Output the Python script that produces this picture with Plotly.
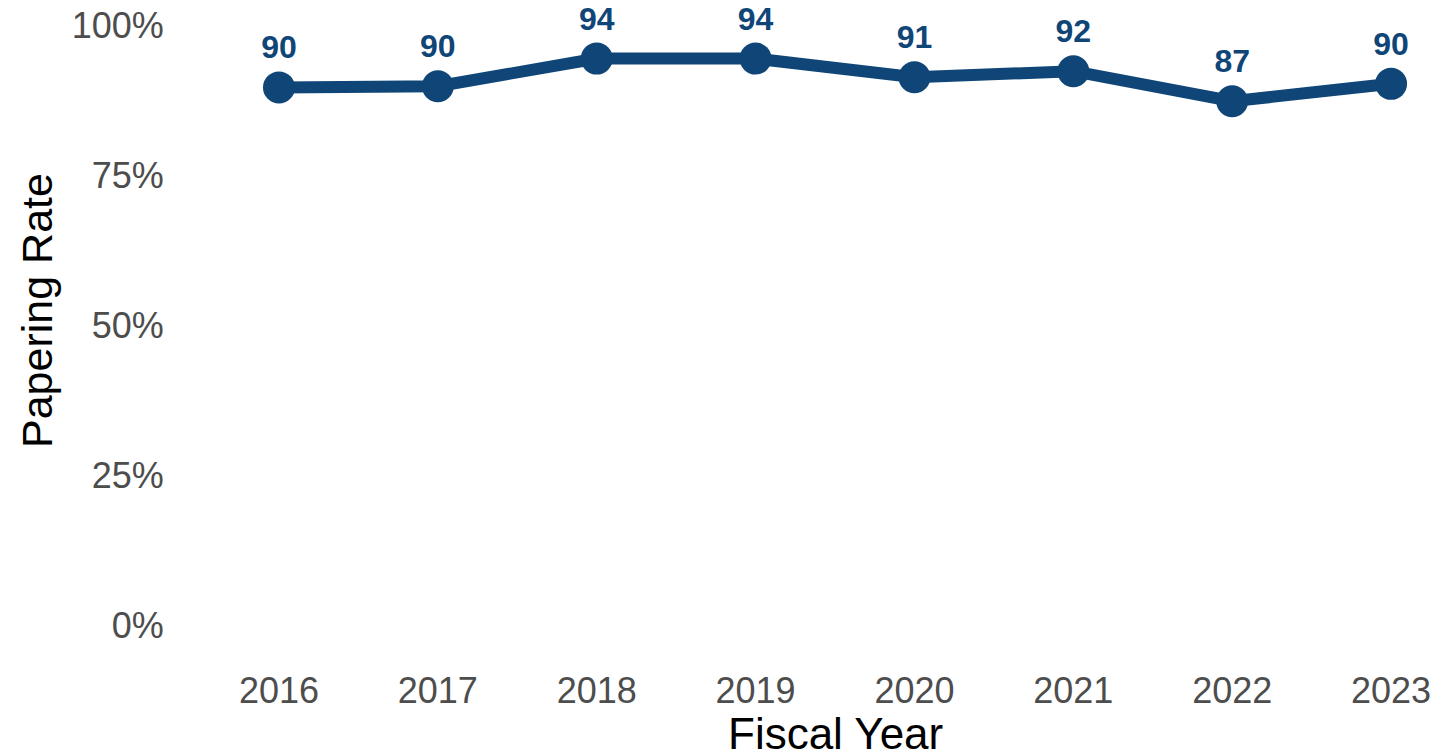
import plotly.graph_objects as go

years = ["2016", "2017", "2018", "2019", "2020", "2021", "2022", "2023"]
rates = [89.6, 89.8, 94.4, 94.4, 91.3, 92.3, 87.3, 90.2]
y_ticks = [0, 25, 50, 75, 100]
y_tick_labels = ["0%", "25%", "50%", "75%", "100%"]

LINE = "#0f4677"
FONT = "Liberation Sans, Arial, sans-serif"

fig = go.Figure()
fig.add_trace(go.Scatter(
    x=years, y=rates,
    mode="lines+markers+text",
    line=dict(color=LINE, width=12),
    marker=dict(color=LINE, size=32),
    texttemplate="%{y:.0f}",
    textposition="top center",
    textfont=dict(family=FONT, size=32, color=LINE, weight="bold"),
    cliponaxis=False,
    showlegend=False,
))

fig.update_layout(
    width=1440, height=754,
    margin=dict(l=180, r=0, t=0, b=97),
    paper_bgcolor="white", plot_bgcolor="white",
    font=dict(family=FONT),
    xaxis=dict(
        type="category", range=[-0.623, 7.308],
        showgrid=False, zeroline=False, showline=False,
        ticks="outside", ticklen=2, tickcolor="white",
        tickfont=dict(family=FONT, size=36, color="#4d4d4d"),
    ),
    yaxis=dict(
        range=[-5.33, 104.17],
        tickvals=y_ticks, ticktext=y_tick_labels,
        showgrid=False, zeroline=False, showline=False,
        ticks="outside", ticklen=8, tickcolor="white",
        tickfont=dict(family=FONT, size=36, color="#4d4d4d"),
    ),
    annotations=[
        dict(text="Papering Rate", xref="paper", yref="paper",
             x=0, y=(657 - 311) / 657, xshift=-143,
             xanchor="center", yanchor="middle", textangle=-90,
             showarrow=False, font=dict(family=FONT, size=43, color="black")),
        dict(text="Fiscal Year", xref="paper", yref="paper",
             x=(835 - 180) / 1260, y=0, yshift=-76,
             xanchor="center", yanchor="middle",
             showarrow=False, font=dict(family=FONT, size=44, color="black")),
    ],
)

fig.write_html("out.html", config={"displayModeBar": False},
               post_script="document.body.style.margin='0';")
